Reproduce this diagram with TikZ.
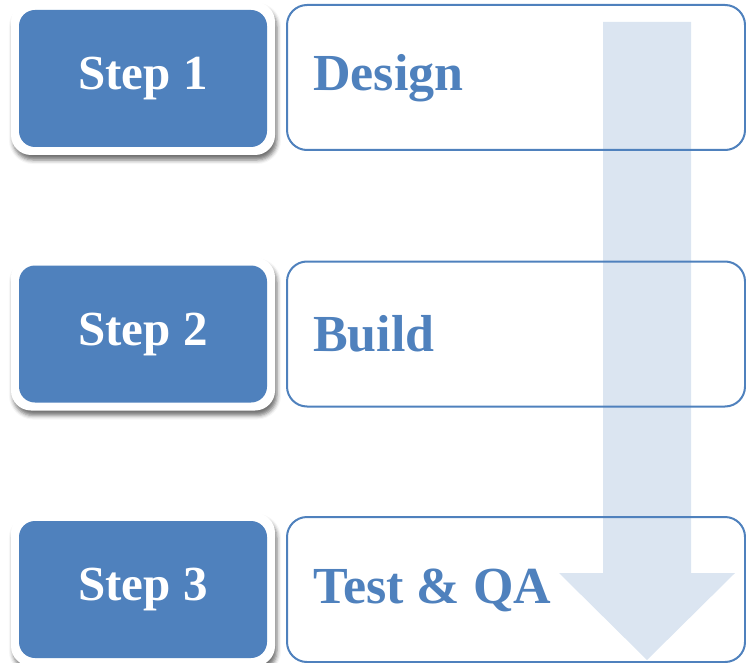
\documentclass[tikz,border=0pt]{standalone}
\usepackage{fontspec}
\setmainfont{Liberation Serif}
\usetikzlibrary{shadows.blur}
\definecolor{stepblue}{HTML}{4F81BD}
\definecolor{arrowblue}{HTML}{DBE5F1}
\begin{document}
\begin{tikzpicture}[x=1pt,y=-1pt,
  stepouter/.style={rectangle, rounded corners=20pt, fill=white, minimum width=264pt, minimum height=153pt, inner sep=0pt,
    blur shadow={shadow xshift=2pt, shadow yshift=-5pt, shadow blur radius=4pt, shadow opacity=55}},
  stepbox/.style={rectangle, rounded corners=16pt, fill=stepblue, minimum width=248pt, minimum height=137pt, inner sep=0pt,
    text=white, font=\fontsize{49}{58}\selectfont\bfseries},
  taskbox/.style={rectangle, rounded corners=20pt, draw=stepblue, line width=2pt, minimum width=458pt, minimum height=145pt, inner sep=0pt},
  tasklabel/.style={anchor=west, inner sep=0pt, text=stepblue, font=\fontsize{52}{60}\selectfont\bfseries}
]
\useasboundingbox (0,0) rectangle (746,663);
% arrow behind the task boxes
\fill[arrowblue] (603,22) -- (691,22) -- (691,573) -- (735,573) -- (647,660) -- (559,573) -- (603,573) -- cycle;
% task boxes
\node[taskbox] (t1) at (516,77.5) {};
\node[taskbox] (t2) at (516,334) {};
\node[taskbox] (t3) at (516,589.5) {};
\node[tasklabel] (l1) at (313,78.5) {Design};
\node[tasklabel] (l2) at (313,334) {Build};
\node[tasklabel] (l3) at (313,590) {Test \& QA};
% step boxes
\node[stepouter] (o1) at (143,78.5) {};
\node[stepouter] (o2) at (143,334) {};
\node[stepouter] (o3) at (143,589.5) {};
\node[stepbox] (s1) at (o1) {Step 1};
\node[stepbox] (s2) at (o2) {Step 2};
\node[stepbox] (s3) at (o3) {Step 3};
\end{tikzpicture}
\end{document}
